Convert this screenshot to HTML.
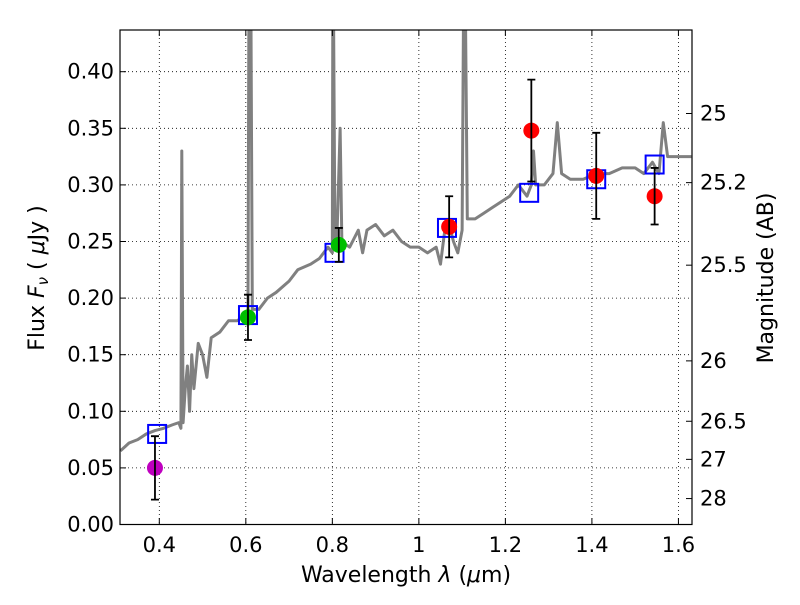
<!DOCTYPE html>
<html><head><meta charset="utf-8"><style>
body{margin:0;background:#fff;}
svg text{font-family:"DejaVu Sans","Liberation Sans",sans-serif;fill:#000;}
</style></head><body>
<svg id="chart" width="800" height="600" xmlns="http://www.w3.org/2000/svg">
<rect width="800" height="600" fill="#fff"/>
<g id="grid"></g>
<g id="spec"></g>
<g id="marks"></g>
<rect x="120" y="30" width="572" height="494.5" fill="none" stroke="#000" stroke-width="1.2"/>
<g id="axes"></g>
<text x="406" y="582" font-size="22" text-anchor="middle">Wavelength  <tspan font-style="italic">λ</tspan> (<tspan font-style="italic">μ</tspan>m)</text>
<text transform="translate(44,278) rotate(-90)" font-size="22" text-anchor="middle">Flux  <tspan font-style="italic">F<tspan font-size="15" dy="4">ν</tspan></tspan><tspan dy="-4">  ( </tspan><tspan font-style="italic">μ</tspan>Jy )</text>
<text transform="translate(773,278) rotate(-90)" font-size="22" text-anchor="middle">Magnitude (AB)</text>
</svg>
<script>
const xTicks=[0.4,0.6,0.8,1.0,1.2,1.4,1.6];
const xTickLabels=["0.4","0.6","0.8","1","1.2","1.4","1.6"];
const yTicks=[0,0.05,0.1,0.15,0.2,0.25,0.3,0.35,0.4];
const magTicks=[25,25.2,25.5,26,26.5,27,28];
const specWave=[0.31,0.33,0.35,0.37,0.39,0.41,0.43,0.445,0.45,0.452,0.455,0.46,0.465,0.47,0.475,0.48,0.49,0.5,0.51,0.52,0.54,0.56,0.58,0.6,0.605,0.607,0.612,0.615,0.63,0.65,0.67,0.7,0.72,0.75,0.77,0.79,0.80,0.801,0.803,0.806,0.81,0.818,0.822,0.84,0.86,0.87,0.88,0.9,0.92,0.94,0.96,0.98,1.0,1.02,1.04,1.05,1.06,1.07,1.08,1.09,1.1,1.103,1.108,1.112,1.13,1.15,1.17,1.19,1.21,1.23,1.25,1.26,1.265,1.27,1.29,1.31,1.32,1.33,1.35,1.38,1.41,1.44,1.47,1.5,1.52,1.54,1.555,1.565,1.575,1.6,1.63];
const specFlux=[0.065,0.072,0.075,0.08,0.083,0.085,0.088,0.09,0.085,0.33,0.09,0.12,0.14,0.10,0.15,0.12,0.16,0.15,0.13,0.165,0.17,0.18,0.18,0.185,0.19,0.44,0.44,0.19,0.19,0.2,0.205,0.215,0.225,0.23,0.235,0.245,0.24,0.44,0.44,0.25,0.245,0.35,0.25,0.245,0.26,0.24,0.26,0.265,0.255,0.26,0.25,0.245,0.245,0.24,0.245,0.23,0.26,0.265,0.25,0.24,0.26,0.44,0.44,0.27,0.27,0.275,0.28,0.285,0.29,0.3,0.29,0.3,0.33,0.3,0.3,0.31,0.355,0.31,0.305,0.305,0.31,0.31,0.315,0.315,0.31,0.32,0.31,0.355,0.325,0.325,0.325];
const modelWave=[0.395,0.605,0.805,1.065,1.255,1.41,1.545];
const modelFlux=[0.08,0.185,0.24,0.262,0.293,0.305,0.318];
const obsWave=[0.39,0.605,0.815,1.07,1.26,1.41,1.545];
const obsFlux=[0.05,0.183,0.247,0.263,0.348,0.308,0.29];
const obsErr=[0.028,0.02,0.015,0.027,0.045,0.038,0.025];
const obsColor=["#bf00bf","#00bf00","#00bf00","#ff0000","#ff0000","#ff0000","#ff0000"];
const NS="http://www.w3.org/2000/svg";
const X=w=>159.3+(w-0.4)*432.6;
const Y=f=>524.5-f*1132;
function mk(p,t,a){const e=document.createElementNS(NS,t);for(const k in a)e.setAttribute(k,a[k]);p.appendChild(e);return e;}
const grid=document.getElementById('grid'),axes=document.getElementById('axes');
xTicks.forEach((t,i)=>{
 const g=mk(grid,'line',{x1:X(t),x2:X(t),y1:30,y2:524.5,stroke:'#000','stroke-dasharray':'1,3','stroke-width':0.8});
 
 
 mk(axes,'line',{x1:X(t),x2:X(t),y1:524.5,y2:518,stroke:'#000'});
 mk(axes,'line',{x1:X(t),x2:X(t),y1:30,y2:36,stroke:'#000'});
 const tx=mk(axes,'text',{x:X(t),y:552,'font-size':21,'text-anchor':'middle'});tx.textContent=xTickLabels[i];
 
 
});
yTicks.forEach(t=>{
 if(t>0){const g=mk(grid,'line',{x1:120,x2:692,y1:Y(t),y2:Y(t),stroke:'#000','stroke-dasharray':'1,3','stroke-width':0.8});
 
 }
 mk(axes,'line',{x1:120,x2:126,y1:Y(t),y2:Y(t),stroke:'#000'});
 const tx=mk(axes,'text',{x:114,y:Y(t)+7,'font-size':21,'text-anchor':'end'});tx.textContent=t.toFixed(2);
 
 
});
magTicks.forEach(m=>{
 const f=Math.pow(10,(23.9-m)/2.5),y=Y(f);
 mk(axes,'line',{x1:692,x2:686,y1:y,y2:y,stroke:'#000'});
 const tx=mk(axes,'text',{x:700,y:y+7,'font-size':21});tx.textContent=String(m);
 
 
});
const spec=document.getElementById('spec');
const cp=mk(spec,'clipPath',{id:'clip'});mk(cp,'rect',{x:120,y:30,width:572,height:494.5});
const pl=mk(spec,'polyline',{points:specWave.map((w,i)=>X(w)+','+Y(specFlux[i])).join(' '),fill:'none',stroke:'#808080','stroke-width':3,'clip-path':'url(#clip)','stroke-linejoin':'round'});


const marks=document.getElementById('marks');
modelWave.forEach((w,i)=>{
 const r=mk(marks,'rect',{x:X(w)-9,y:Y(modelFlux[i])-9,width:18,height:18,fill:'none',stroke:'#0000ff','stroke-width':2});
 
 
});
obsWave.forEach((w,i)=>{
 const x=X(w),y1=Y(obsFlux[i]-obsErr[i]),y2=Y(obsFlux[i]+obsErr[i]);
 const c=mk(marks,'circle',{cx:x,cy:Y(obsFlux[i]),r:8,fill:obsColor[i]});
 
 
 const e=mk(marks,'path',{d:`M${x},${y1}V${y2}M${x-4},${y1}H${x+4}M${x-4},${y2}H${x+4}`,stroke:'#000','stroke-width':1.8,fill:'none'});
 
 
});
</script>
</body></html>
